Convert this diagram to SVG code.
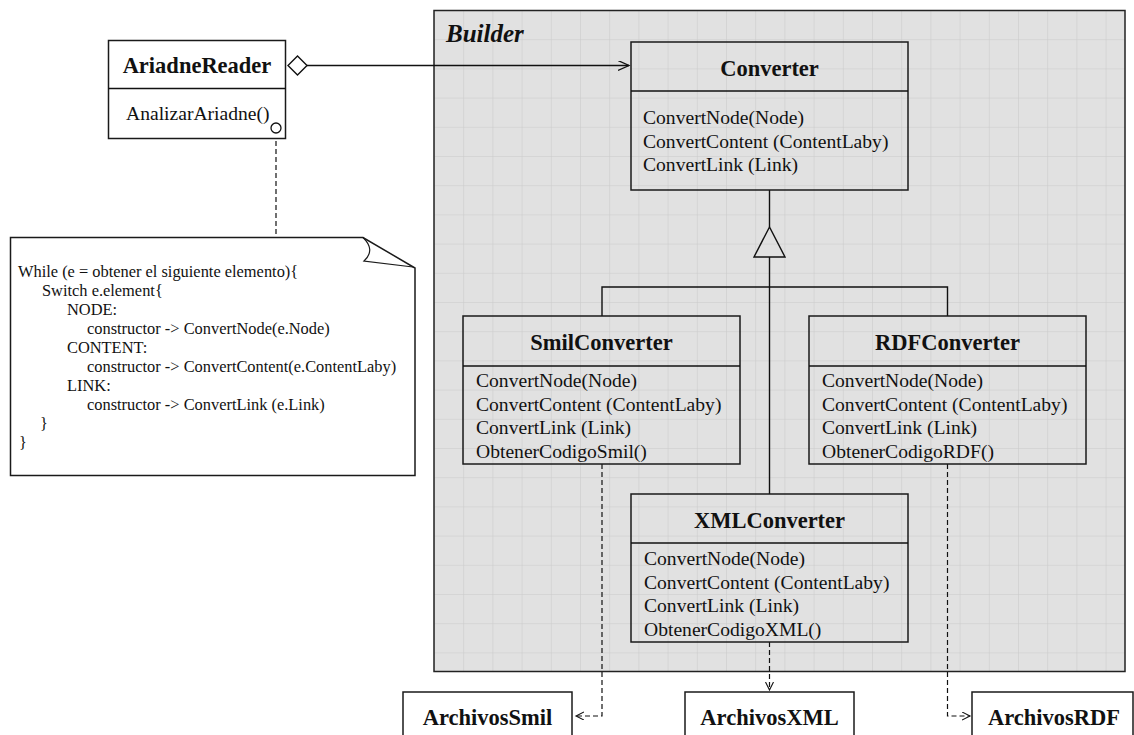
<svg xmlns="http://www.w3.org/2000/svg" width="1134" height="735" viewBox="0 0 1134 735">
<defs>
<pattern id="grid" x="434" y="10" width="29.2" height="29.2" patternUnits="userSpaceOnUse">
<rect width="29.2" height="29.2" fill="#e1e1e1"/>
<path d="M0 0 H29.2 M0 0 V29.2" stroke="#c9c9c9" stroke-width="1" fill="none"/>
</pattern>
<marker id="open" markerWidth="14" markerHeight="12" refX="11" refY="5" orient="auto" markerUnits="userSpaceOnUse">
<path d="M0 0 L11 5 L0 10" fill="none" stroke="#111" stroke-width="1.3"/>
</marker>
<marker id="dep" markerWidth="10" markerHeight="10" refX="8" refY="4" orient="auto" markerUnits="userSpaceOnUse">
<path d="M0 0 L8 4 L0 8" fill="none" stroke="#111" stroke-width="1.1"/>
</marker>
</defs>
<style>
.box{fill:none;stroke:#1a1a1a;stroke-width:1.5}
.wbox{fill:#fff;stroke:#1a1a1a;stroke-width:1.5}
.title{font-family:"Liberation Serif","Times New Roman",serif;font-weight:bold;font-size:22.5px;fill:#111;text-anchor:middle}
.m{font-family:"Liberation Serif","Times New Roman",serif;font-size:19.6px;fill:#111}
.note{font-family:"Liberation Serif","Times New Roman",serif;font-size:16.4px;fill:#111}
.ln{stroke:#111;stroke-width:1.4;fill:none}
.dash{stroke:#111;stroke-width:1.2;fill:none;stroke-dasharray:5,3}
</style>
<rect width="1134" height="735" fill="#fff"/>

<g id="builder">
<rect x="434" y="10.5" width="691" height="661" fill="url(#grid)" stroke="#222" stroke-width="1.5"/>
<text x="446" y="42" font-family="Liberation Serif, Times New Roman, serif" font-weight="bold" font-style="italic" font-size="25px" fill="#111">Builder</text>
</g>

<g id="connectors">
<line class="ln" x1="307" y1="65.5" x2="629" y2="65.5" marker-end="url(#open)"/>
<line class="ln" x1="769.5" y1="190" x2="769.5" y2="227"/>
<polygon points="769.5,227 754,257 785,257" fill="none" stroke="#111" stroke-width="1.4"/>
<line class="ln" x1="769.5" y1="257" x2="769.5" y2="494"/>
<polyline class="ln" points="602,316 602,287 947.5,287 947.5,316"/>
<line class="dash" x1="276" y1="133" x2="276" y2="237"/>
<polyline class="dash" points="602,464 602,716 576,716" marker-end="url(#dep)"/>
<polyline class="dash" points="947.5,464 947.5,716 970,716" marker-end="url(#dep)"/>
<line class="dash" x1="769.5" y1="642" x2="769.5" y2="690" marker-end="url(#dep)"/>
</g>

<g id="ariadneReader">
<rect class="wbox" x="108.5" y="40.5" width="177" height="98"/>
<line class="ln" x1="108.5" y1="88.5" x2="285.5" y2="88.5"/>
<text class="title" x="197" y="73">AriadneReader</text>
<text class="m" x="126" y="120">AnalizarAriadne()</text>
<polygon points="288,65.5 297.5,56 307,65.5 297.5,75" fill="#fff" stroke="#111" stroke-width="1.4"/>
<circle cx="276" cy="128" r="5" fill="#fff" stroke="#111" stroke-width="1.3"/>
</g>

<g id="note">
<path d="M10.5 237.5 H363 L415 268 V475.5 H10.5 Z" fill="#fff" stroke="#1a1a1a" stroke-width="1.5"/>
<path d="M363 237.5 Q376 250 364 261 L413 267" fill="none" stroke="#1a1a1a" stroke-width="1.2"/>
<text class="note" x="18" y="277">While (e = obtener el siguiente elemento){</text>
<text class="note" x="42" y="296">Switch e.element{</text>
<text class="note" x="67" y="315">NODE:</text>
<text class="note" x="87" y="334">constructor -&gt; ConvertNode(e.Node)</text>
<text class="note" x="67" y="353">CONTENT:</text>
<text class="note" x="87" y="372">constructor -&gt; ConvertContent(e.ContentLaby)</text>
<text class="note" x="67" y="391">LINK:</text>
<text class="note" x="87" y="410">constructor -&gt; ConvertLink (e.Link)</text>
<text class="note" x="40" y="429">}</text>
<text class="note" x="19" y="448">}</text>
</g>

<g id="converter">
<rect class="box" x="631" y="42" width="277" height="148"/>
<line class="ln" x1="631" y1="91" x2="908" y2="91"/>
<text class="title" x="769.5" y="75.5">Converter</text>
<text class="m" x="643" y="124">ConvertNode(Node)</text>
<text class="m" x="643" y="147.5">ConvertContent (ContentLaby)</text>
<text class="m" x="643" y="171">ConvertLink (Link)</text>
</g>

<g id="smilConverter">
<rect class="box" x="463" y="316" width="277" height="148"/>
<line class="ln" x1="463" y1="366" x2="740" y2="366"/>
<text class="title" x="601.5" y="350">SmilConverter</text>
<text class="m" x="476" y="387">ConvertNode(Node)</text>
<text class="m" x="476" y="411">ConvertContent (ContentLaby)</text>
<text class="m" x="476" y="434">ConvertLink (Link)</text>
<text class="m" x="476" y="458">ObtenerCodigoSmil()</text>
</g>

<g id="rdfConverter">
<rect class="box" x="809" y="316" width="277" height="148"/>
<line class="ln" x1="809" y1="366" x2="1086" y2="366"/>
<text class="title" x="947.5" y="350">RDFConverter</text>
<text class="m" x="822" y="387">ConvertNode(Node)</text>
<text class="m" x="822" y="411">ConvertContent (ContentLaby)</text>
<text class="m" x="822" y="434">ConvertLink (Link)</text>
<text class="m" x="822" y="458">ObtenerCodigoRDF()</text>
</g>

<g id="xmlConverter">
<rect class="box" x="631" y="494" width="277" height="148"/>
<line class="ln" x1="631" y1="543" x2="908" y2="543"/>
<text class="title" x="769.5" y="528">XMLConverter</text>
<text class="m" x="644" y="565">ConvertNode(Node)</text>
<text class="m" x="644" y="589">ConvertContent (ContentLaby)</text>
<text class="m" x="644" y="612">ConvertLink (Link)</text>
<text class="m" x="644" y="636">ObtenerCodigoXML()</text>
</g>

<g id="archivosSmil">
<rect class="wbox" x="403" y="692" width="169" height="50"/>
<text class="title" x="487.5" y="725">ArchivosSmil</text>
</g>

<g id="archivosXML">
<rect class="wbox" x="685" y="692" width="169" height="50"/>
<text class="title" x="769.5" y="725">ArchivosXML</text>
</g>

<g id="archivosRDF">
<rect class="wbox" x="972" y="692" width="161" height="50"/>
<text class="title" x="1054" y="725">ArchivosRDF</text>
</g>
</svg>
